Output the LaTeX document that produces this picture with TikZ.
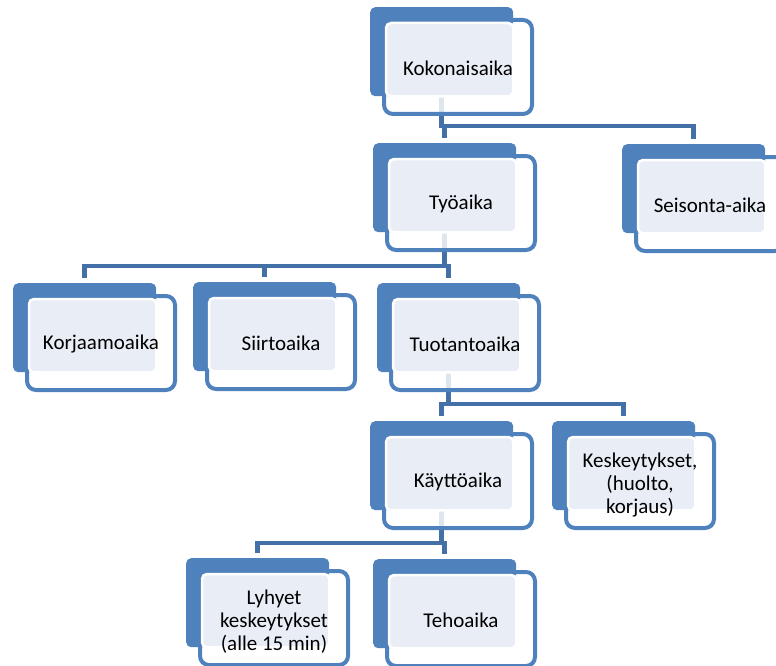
\documentclass[tikz,border=0pt]{standalone}
\usepackage{fontspec}
\setmainfont{Carlito}
\usetikzlibrary{calc}
\pgfdeclarelayer{conn}
\pgfdeclarelayer{outl}
\pgfdeclarelayer{fore}
\pgfsetlayers{conn,outl,main,fore}
\definecolor{darkb}{RGB}{79,129,189}
\definecolor{lightb}{RGB}{233,238,246}
\definecolor{connc}{RGB}{68,112,168}
\tikzset{
  darkbox/.style={rectangle, rounded corners=5pt, fill=darkb, draw=none,
    minimum width=143pt, minimum height=89pt, inner sep=0pt, anchor=north west},
  outlinebox/.style={draw=darkb, line width=4pt, rounded corners=9pt,
    fill=white, fill opacity=0.82},
  lightbox/.style={fill=lightb, draw=white, line width=2.5pt, rounded corners=5pt},
  lbl/.style={font=\fontsize{21}{23}\selectfont, align=center, inner sep=0pt, text=black},
  conn/.style={draw=connc, line width=4.5pt, line join=miter, shorten >=5pt}
}
\newcommand\blk[5]{%
  \node[darkbox] (#1) at (#2,-#3) {};
  \begin{pgfonlayer}{outl}
    \draw[outlinebox] ($(#1.north west)+(14,-13)$) rectangle ($(#1.north west)+(162,-107)$);
  \end{pgfonlayer}
  \begin{pgfonlayer}{fore}
    \draw[lightbox] ($(#1.north west)+(16,-16)$) rectangle (#1.south east);
    \node[lbl] (#1-t) at ($(#1.north west)+(88,-#4)$) {#5};
  \end{pgfonlayer}
}
\begin{document}
\begin{tikzpicture}[x=1pt,y=1pt]
\useasboundingbox (0,0) rectangle (776,-666);
\clip (0,0) rectangle (776,-666);
\blk{kok}{370}{7}{61}{Kokonaisaika}
\blk{tyo}{373}{143}{61}{Työaika}
\blk{sei}{622}{144}{61}{Seisonta-aika}
\blk{kor}{13}{283}{61}{Korjaamoaika}
\blk{sii}{193}{282}{61}{Siirtoaika}
\blk{tuo}{377}{283}{61}{Tuotantoaika}
\blk{kay}{370}{421}{61}{Käyttöaika}
\blk{kes}{552}{421}{64}{Keskeytykset,\\(huolto,\\korjaus)}
\blk{lyh}{186}{558}{64}{Lyhyet\\keskeytykset\\(alle 15 min)}
\blk{teh}{373}{559}{61}{Tehoaika}
\coordinate (b1) at (0,-126);
\coordinate (b2) at (0,-266);
\coordinate (b3) at (0,-404);
\coordinate (b4) at (0,-543);
\begin{pgfonlayer}{conn}
  \draw[conn] (kok.south) -- (kok.south |- b1) -- (tyo.north |- b1) -- (tyo.north);
  \draw[conn] (kok.south) -- (kok.south |- b1) -- (sei.north |- b1) -- (sei.north);
  \draw[conn] (tyo.south) -- (tyo.south |- b2) -- (kor.north |- b2) -- (kor.north);
  \draw[conn] (tyo.south) -- (tyo.south |- b2) -- (sii.north |- b2) -- (sii.north);
  \draw[conn] (tyo.south) -- (tyo.south |- b2) -- (tuo.north |- b2) -- (tuo.north);
  \draw[conn] (tuo.south) -- (tuo.south |- b3) -- (kay.north |- b3) -- (kay.north);
  \draw[conn] (tuo.south) -- (tuo.south |- b3) -- (kes.north |- b3) -- (kes.north);
  \draw[conn] (kay.south) -- (kay.south |- b4) -- (lyh.north |- b4) -- (lyh.north);
  \draw[conn] (kay.south) -- (kay.south |- b4) -- (teh.north |- b4) -- (teh.north);
\end{pgfonlayer}
\end{tikzpicture}
\end{document}
